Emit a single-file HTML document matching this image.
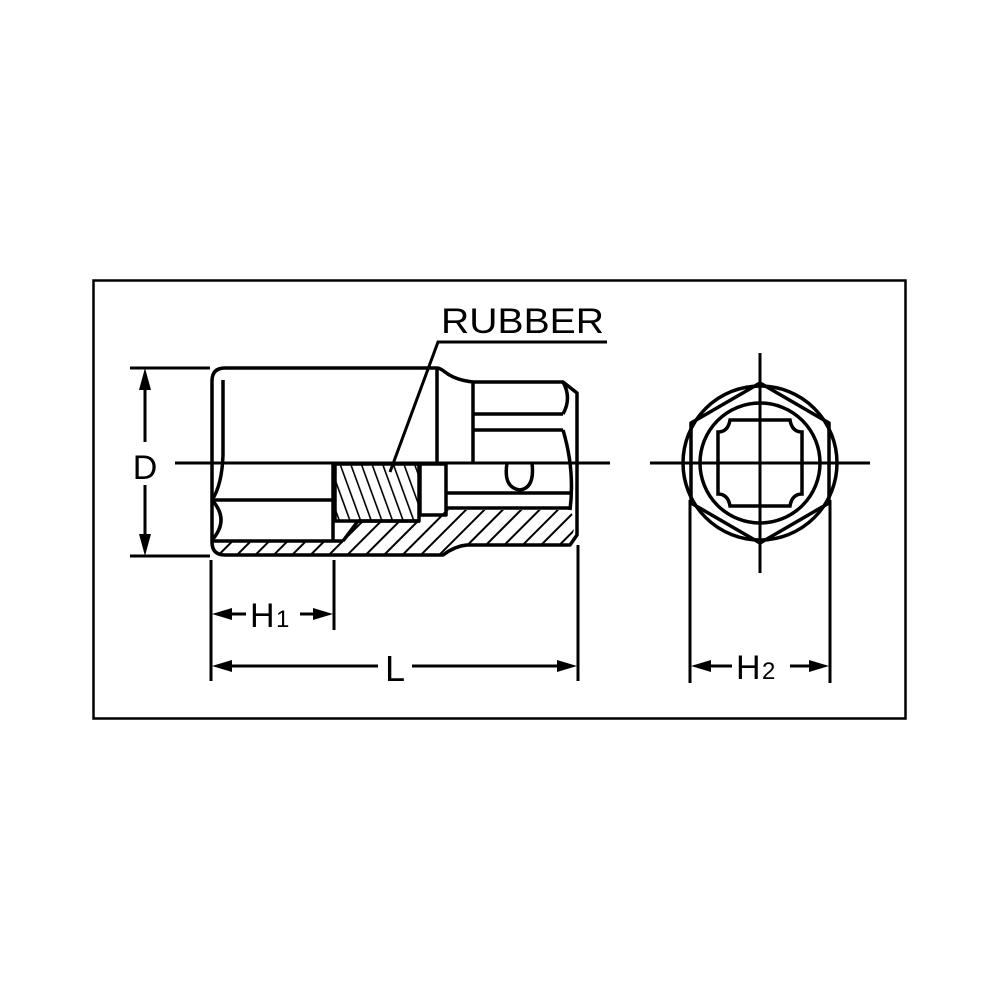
<!DOCTYPE html>
<html><head><meta charset="utf-8"><style>
html,body{margin:0;padding:0;background:#fff;}
svg{display:block;}
text{font-family:"Liberation Sans",Arial,sans-serif;fill:#000;}
</style></head><body>
<svg width="1000" height="1000" viewBox="0 0 1000 1000" xmlns="http://www.w3.org/2000/svg">
<defs>
<pattern id="h1" patternUnits="userSpaceOnUse" width="13" height="13" patternTransform="rotate(45)">
<line x1="0" y1="0" x2="0" y2="13" stroke="#000" stroke-width="4"/>
</pattern>
<pattern id="h2" patternUnits="userSpaceOnUse" width="10" height="10" patternTransform="rotate(-20)">
<line x1="0" y1="0" x2="0" y2="10" stroke="#000" stroke-width="3.2"/>
</pattern>
</defs>
<rect x="93.5" y="280.5" width="812" height="438" fill="none" stroke="#000" stroke-width="2.5"/>
<g fill="none" stroke="#000" stroke-width="3.5" stroke-linejoin="round">
<path d="M215,541 L343,541 L358,521 L420,521 L425,515 L447,510 L570,510 L576,522 L570,544 L467,545 L443,555 L222,555 Q215,555 215,548 Z" fill="url(#h1)" stroke="none"/>
<rect x="335" y="464" width="84" height="57" fill="url(#h2)" stroke="#000"/>
<path d="M437,368 L225,368 Q212,368 212,381 L212,542 Q212,555 225,555 L443,555 Q455,546 467,545 L570,545 L577,535 L577,393 L563,382 L473,382 Q455,380 445,372 Q440,368 437,368"/>
<line x1="437" y1="368" x2="437" y2="463"/>
<line x1="473" y1="382" x2="473" y2="463"/>
<line x1="473" y1="414" x2="563" y2="414"/>
<line x1="473" y1="430" x2="563" y2="430"/>
<path d="M563,382 Q572,398 563,414"/>
<path d="M563,430 Q575,470 570,510"/>
<line x1="223" y1="380" x2="223" y2="455"/>
<path d="M223,455 Q222,485 212,500"/>
<path d="M212,500 Q230,520 212,540"/>
<line x1="212" y1="500" x2="333" y2="500"/>
<line x1="212" y1="541" x2="343" y2="541"/>
<line x1="333" y1="463" x2="333" y2="541"/>
<rect x="420" y="464" width="26" height="51"/>
<line x1="446" y1="493" x2="570" y2="493"/>
<line x1="446" y1="508" x2="570" y2="508"/>
<path d="M507,463 Q503,488 520,490 Q535,488 532,463"/>
<line x1="343" y1="541" x2="358" y2="521"/>
<line x1="358" y1="521" x2="420" y2="521"/>
</g>
<g stroke="#000" stroke-width="3" fill="none">
<line x1="175" y1="463" x2="610" y2="463"/>
<line x1="650" y1="463" x2="870" y2="463"/>
<line x1="760" y1="353" x2="760" y2="573"/>
<polyline points="607,342 438,342 390,472"/>
<line x1="130" y1="368" x2="210" y2="368"/>
<line x1="130" y1="556" x2="210" y2="556"/>
<line x1="145" y1="380" x2="145" y2="442"/>
<line x1="145" y1="485" x2="145" y2="545"/>
<line x1="211" y1="560" x2="211" y2="681"/>
<line x1="334" y1="560" x2="334" y2="630"/>
<line x1="578" y1="545" x2="578" y2="681"/>
<line x1="690" y1="500" x2="690" y2="683"/>
<line x1="830" y1="500" x2="830" y2="683"/>
<line x1="220" y1="614" x2="246" y2="614"/>
<line x1="300" y1="614" x2="325" y2="614"/>
<line x1="220" y1="666" x2="378" y2="666"/>
<line x1="412" y1="666" x2="570" y2="666"/>
<line x1="700" y1="666" x2="732" y2="666"/>
<line x1="790" y1="666" x2="822" y2="666"/>
</g>
<g fill="#000">
<polygon points="145,368 139,390 151,390"/>
<polygon points="145,556 139,534 151,534"/>
<polygon points="212,614 232,608 232,620"/>
<polygon points="333,614 313,608 313,620"/>
<polygon points="212,666 232,660 232,672"/>
<polygon points="577,666 557,660 557,672"/>
<polygon points="691,666 711,660 711,672"/>
<polygon points="829,666 809,660 809,672"/>
</g>
<g fill="none" stroke="#000" stroke-width="3.5">
<circle cx="760" cy="463" r="77"/>
<polygon points="760,383 829,423 829,503 760,543 691,503 691,423"/>
<circle cx="760" cy="463" r="60"/>
<path d="M730,420 L790,420 Q792,432 802,432 L802,494 Q792,494 790,506 L730,506 Q728,494 718,494 L718,432 Q728,432 730,420 Z"/>
</g>
<text x="441" y="333" font-size="35" textLength="163" lengthAdjust="spacingAndGlyphs">RUBBER</text>
<text x="145" y="479" font-size="34" text-anchor="middle">D</text>
<text x="250" y="627" font-size="34">H</text>
<text x="276" y="627" font-size="24">1</text>
<text x="395" y="681" font-size="36" text-anchor="middle">L</text>
<text x="736" y="679" font-size="34">H</text>
<text x="762" y="679" font-size="24">2</text>
</svg>
</body></html>
